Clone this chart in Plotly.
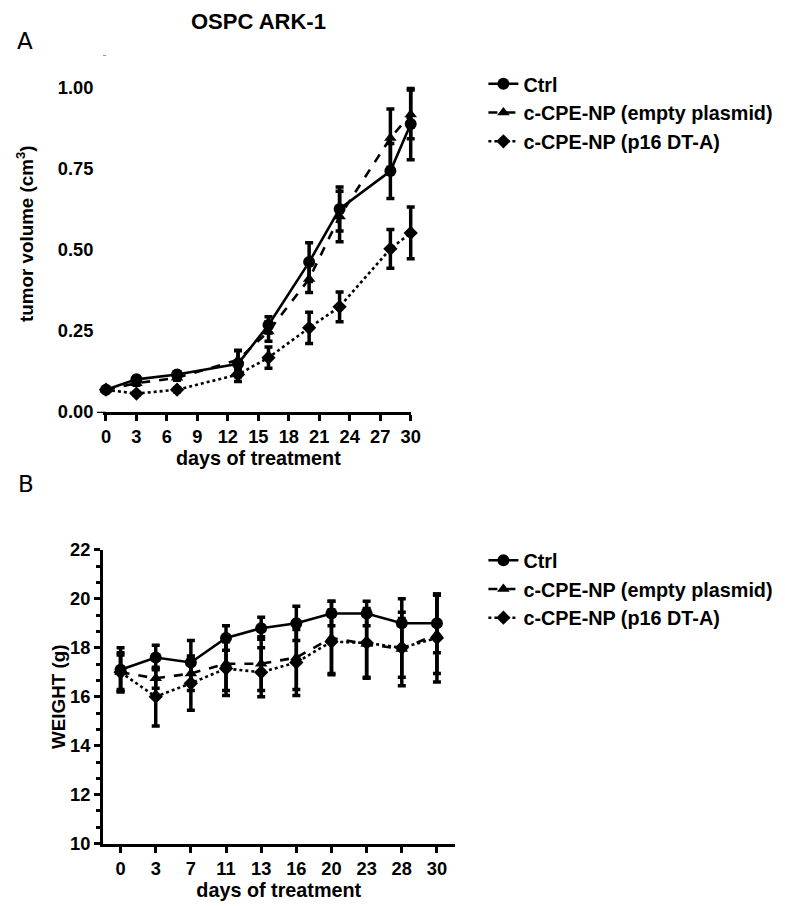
import plotly.graph_objects as go

# ---------------- data ----------------
series_names = ["Ctrl", "c-CPE-NP (empty plasmid)", "c-CPE-NP (p16 DT-A)"]

# Panel A: tumor volume
days_a = [0, 3, 7, 13, 16, 20, 23, 28, 30]
vol_ctrl = [0.068, 0.100, 0.115, 0.148, 0.268, 0.462, 0.626, 0.743, 0.888]
vol_ctrl_err = [0.004, 0.006, 0.008, 0.040, 0.025, 0.060, 0.068, 0.085, 0.110]
vol_empty = [0.068, 0.088, 0.105, 0.160, 0.248, 0.410, 0.603, 0.845, 0.918]
vol_empty_err = [0.004, 0.006, 0.008, 0.030, 0.030, 0.042, 0.078, 0.090, 0.075]
vol_p16 = [0.068, 0.056, 0.068, 0.115, 0.167, 0.259, 0.324, 0.503, 0.552]
vol_p16_err = [0.004, 0.005, 0.006, 0.022, 0.033, 0.048, 0.046, 0.060, 0.080]

# Panel B: weight
days_b = ["0", "3", "7", "11", "13", "16", "20", "23", "28", "30"]
wt_ctrl = [17.1, 17.6, 17.4, 18.4, 18.8, 19.0, 19.4, 19.4, 19.0, 19.0]
wt_ctrl_err = [0.9, 0.5, 0.9, 0.5, 0.45, 0.7, 0.5, 0.5, 1.0, 1.2]
wt_empty = [17.0, 16.75, 16.95, 17.35, 17.35, 17.6, 18.4, 18.15, 17.95, 18.55]
wt_empty_err = [0.7, 0.4, 0.7, 1.1, 1.1, 1.3, 1.5, 1.4, 1.5, 1.6]
wt_p16 = [17.0, 16.0, 16.55, 17.15, 17.0, 17.4, 18.25, 18.2, 18.0, 18.4]
wt_p16_err = [0.8, 1.2, 1.1, 1.1, 1.0, 1.35, 1.3, 1.4, 1.2, 1.8]

y_ticks_a = [0.0, 0.25, 0.5, 0.75, 1.0]
x_ticks_a = [0, 3, 6, 9, 12, 15, 18, 21, 24, 27, 30]
y_ticks_b = [10, 12, 14, 16, 18, 20, 22]

dashes = ["solid", "dash", "dot"]
symbols = ["circle", "triangle-up", "diamond"]
sizes = [12, 11, 11]

FONT = "Liberation Sans, Arial, sans-serif"

W, H = 785, 906
# map target picture pixels to figure fractions (small empirical correction for the capture)
KX, AX = 0.985, 3.6
KY, AY = 0.976, 9.6
def px_x(p): return ((p - AX) / KX) / W
def px_y(p): return 1 - ((p - AY) / KY) / H

# panel A pixel frame (target picture pixels)
A_L, A_R, A_B, A_T = 105, 411, 410, 54
A_XR = [0, 30]
PAD = 12  # extra px on each side of the invisible data axis so edge markers are not clipped
A_XR_DATA = [A_XR[0] - PAD * 30 / (A_R - A_L), A_XR[1] + PAD * 30 / (A_R - A_L)]

# panel B pixel frame
B_L, B_R, B_B, B_T = 102, 455, 841.5, 548

fig = go.Figure()

# invisible helper trace so the visible panel-A x axis is drawn
fig.add_trace(go.Scatter(x=[None], y=[None], xaxis="x", yaxis="y", showlegend=False,
                         hoverinfo="skip"))

for i, (y, e) in enumerate([(vol_ctrl, vol_ctrl_err), (vol_empty, vol_empty_err), (vol_p16, vol_p16_err)]):
    fig.add_trace(go.Scatter(
        x=days_a, y=y, name=series_names[i], mode="lines+markers",
        line=dict(color="black", width=2.6, dash=dashes[i]),
        marker=dict(color="black", symbol=symbols[i], size=sizes[i]),
        error_y=dict(type="data", array=e, color="black", thickness=3.5, width=4),
        cliponaxis=False, xaxis="x3", yaxis="y", legend="legend",
    ))

for i, (y, e) in enumerate([(wt_ctrl, wt_ctrl_err), (wt_empty, wt_empty_err), (wt_p16, wt_p16_err)]):
    fig.add_trace(go.Scatter(
        x=days_b, y=y, name=series_names[i], mode="lines+markers",
        line=dict(color="black", width=2.6, dash=dashes[i]),
        marker=dict(color="black", symbol=symbols[i], size=sizes[i]),
        error_y=dict(type="data", array=e, color="black", thickness=3.5, width=4),
        cliponaxis=False, xaxis="x2", yaxis="y2", legend="legend2",
    ))

TICKF = dict(size=18.3, color="black", family=FONT, weight="bold")
axis_common = dict(showline=True, linecolor="black", linewidth=3, ticks="outside",
                   ticklen=6, tickwidth=3, tickcolor="black", showgrid=False, zeroline=False,
                   tickfont=TICKF)
TITLEF = dict(size=19.8, weight="bold", family=FONT, color="black")
YTITLEF = dict(size=18.8, weight="bold", family=FONT, color="black")
LEGF = dict(size=19.8, weight="bold", family=FONT, color="black")

fig.update_layout(
    width=W, height=H, margin=dict(l=0, r=0, t=0, b=0),
    paper_bgcolor="white", plot_bgcolor="white",
    font=dict(family=FONT, color="black", size=18, weight="bold"),
    xaxis=dict(domain=[px_x(A_L), px_x(A_R)], anchor="y", range=A_XR,
               tickvals=x_ticks_a, title=dict(text="days of treatment", standoff=2, font=TITLEF),
               **axis_common),
    xaxis3=dict(domain=[px_x(A_L - PAD), px_x(A_R + PAD)], anchor="y", range=A_XR_DATA,
                visible=False),
    yaxis=dict(domain=[px_y(A_B), px_y(A_T)], anchor="x", range=[0, 1.1],
               tickvals=y_ticks_a, tickformat=".2f", **axis_common),
    xaxis2=dict(domain=[px_x(B_L), px_x(B_R)], anchor="y2", type="category",
                categoryorder="array", categoryarray=days_b, range=[-0.5, 9.5],
                title=dict(text="days of treatment", standoff=2, font=TITLEF), **axis_common),
    yaxis2=dict(domain=[px_y(B_B), px_y(B_T)], anchor="x2", range=[10, 22],
                tickvals=y_ticks_b,
                minor=dict(dtick=2/3, tick0=10, ticks="outside", ticklen=4, tickwidth=2.5,
                           tickcolor="black"),
                **axis_common),
    legend=dict(x=px_x(484), y=px_y(63), xanchor="left", yanchor="top",
                font=LEGF, itemwidth=30, tracegroupgap=0, bgcolor="rgba(0,0,0,0)"),
    legend2=dict(x=px_x(484), y=px_y(539), xanchor="left", yanchor="top",
                 font=LEGF, itemwidth=30, tracegroupgap=0, bgcolor="rgba(0,0,0,0)"),
    annotations=[
        dict(text="OSPC ARK-1", x=px_x(258), y=px_y(20), xref="paper", yref="paper",
             showarrow=False, font=dict(size=22, weight="bold", family=FONT),
             xanchor="center", yanchor="middle"),
        dict(text="A", x=px_x(24), y=px_y(40), xref="paper", yref="paper",
             showarrow=False, font=dict(size=23, weight="normal", family="DejaVu Sans"),
             xanchor="center", yanchor="middle"),
        dict(text="B", x=px_x(25), y=px_y(482), xref="paper", yref="paper",
             showarrow=False, font=dict(size=23, weight="normal", family="DejaVu Sans"),
             xanchor="center", yanchor="middle"),
        dict(text="tumor volume (cm<sup>3</sup>)", x=px_x(23), y=px_y((A_T + A_B) / 2),
             xref="paper", yref="paper", showarrow=False, textangle=-90, font=YTITLEF,
             xanchor="center", yanchor="middle"),
        dict(text="WEIGHT (g)", x=px_x(58), y=px_y((B_T + B_B) / 2),
             xref="paper", yref="paper", showarrow=False, textangle=-90, font=YTITLEF,
             xanchor="center", yanchor="middle"),
    ],
)

fig.write_html("out.html", config={"displayModeBar": False},
               post_script="document.body.style.margin='0';")
